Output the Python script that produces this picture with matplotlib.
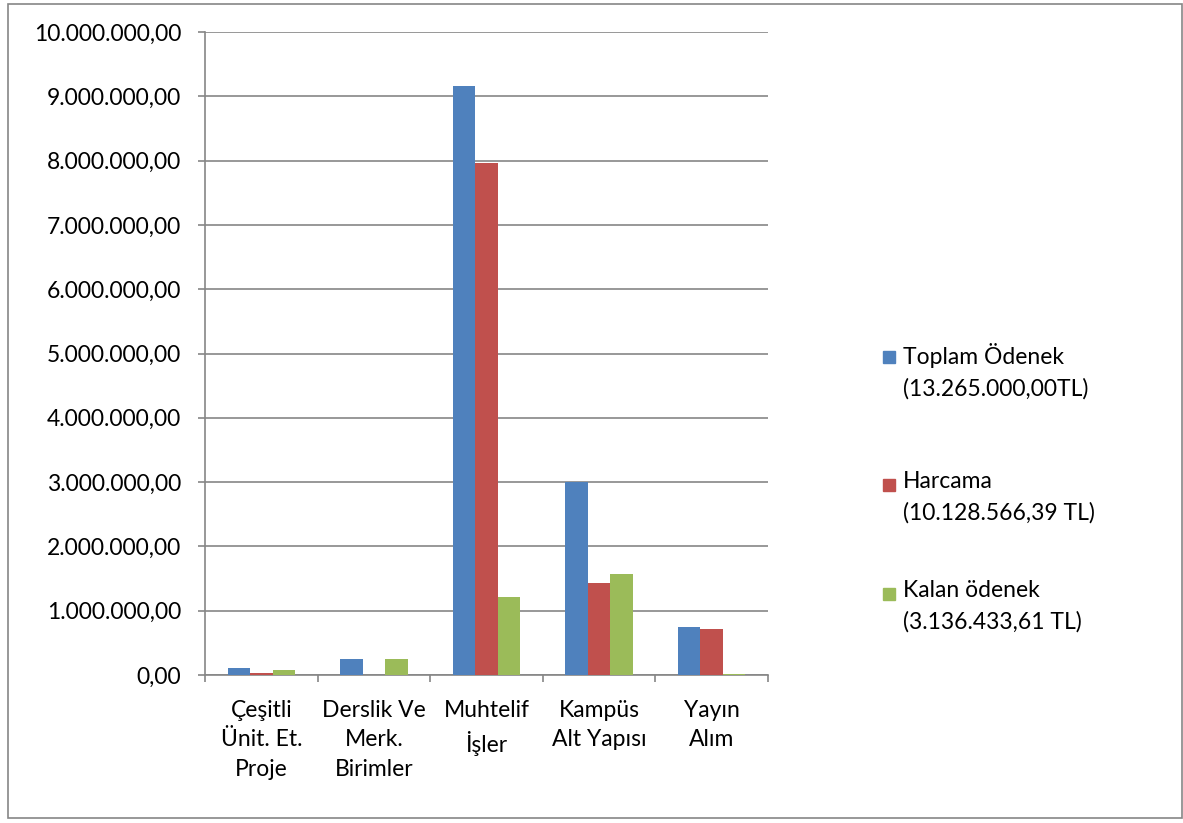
import matplotlib.pyplot as plt
from matplotlib.patches import Rectangle
import numpy as np

categories = ["Çeşitli\nÜnit. Et.\nProje", "Derslik Ve\nMerk.\nBirimler",
              "Muhtelif\nİşler", "Kampüs\nAlt Yapısı", "Yayın\nAlım"]
toplam = [104000, 249000, 9160000, 3000000, 746000]
harcama = [30000, 0, 7960000, 1426000, 720000]
kalan = [73000, 249000, 1218000, 1570000, 20000]
series_names = ["Toplam Ödenek\n(13.265.000,00TL)",
                "Harcama\n(10.128.566,39 TL)",
                "Kalan ödenek\n(3.136.433,61 TL)"]
colors = ["#4F81BD", "#C0504D", "#9BBB59"]
yticks = np.arange(0, 10000001, 1000000)

plt.rcParams['font.family'] = ['Lato', 'DejaVu Sans']
W, H = 1183, 823
fig = plt.figure(figsize=(W / 100, H / 100), dpi=100)
ax = fig.add_axes([205 / W, 1 - 675 / H, (768 - 205) / W, (675 - 32) / H])

grey = "#868686"
fs = 16.5
x = np.arange(len(categories))
width = 0.2
for i, vals in enumerate([toplam, harcama, kalan]):
    ax.bar(x + (i - 1) * width, vals, width, color=colors[i], zorder=3)

ax.set_xlim(-0.5, len(categories) - 0.5)
ax.set_ylim(0, 10000000)
ax.set_yticks(yticks)
ax.set_yticklabels([f"{v:,.2f}".replace(",", "X").replace(".", ",").replace("X", ".") for v in yticks])
ax.yaxis.grid(True, color=grey, linewidth=1.2, zorder=0)

ax.set_xticks(np.arange(-0.5, len(categories), 1))
ax.set_xticklabels([])
ax.set_xticks(x, minor=True)
ax.set_xticklabels(categories, minor=True, fontsize=fs, linespacing=1.5, va='top')
ax.tick_params(axis='x', which='minor', length=0, pad=18)
ax.tick_params(axis='x', which='major', length=5, color=grey, width=1.2)
ax.tick_params(axis='y', length=5, color=grey, width=1.2, labelsize=fs, pad=12)

for s in ['top', 'right']:
    ax.spines[s].set_visible(False)
for s in ['left', 'bottom']:
    ax.spines[s].set_color(grey)
    ax.spines[s].set_linewidth(1.2)

# legend drawn by hand so the square sits at the first line
legend_y = [357, 485, 594]
for name, c, yy in zip(series_names, colors, legend_y):
    fig.patches.append(Rectangle((883 / W, 1 - (yy + 6) / H), 12 / W, 12 / H,
                                 transform=fig.transFigure, color=c))
    fig.text(903 / W, 1 - (yy - 14) / H, name, fontsize=fs, va='top',
             linespacing=1.55)

fig.patches.append(Rectangle((8 / W, 1 - 818 / H), (W - 9) / W, (818 - 4) / H,
                             transform=fig.transFigure, fill=False,
                             edgecolor=grey, linewidth=1.2))

plt.savefig("out.png", dpi=100)
